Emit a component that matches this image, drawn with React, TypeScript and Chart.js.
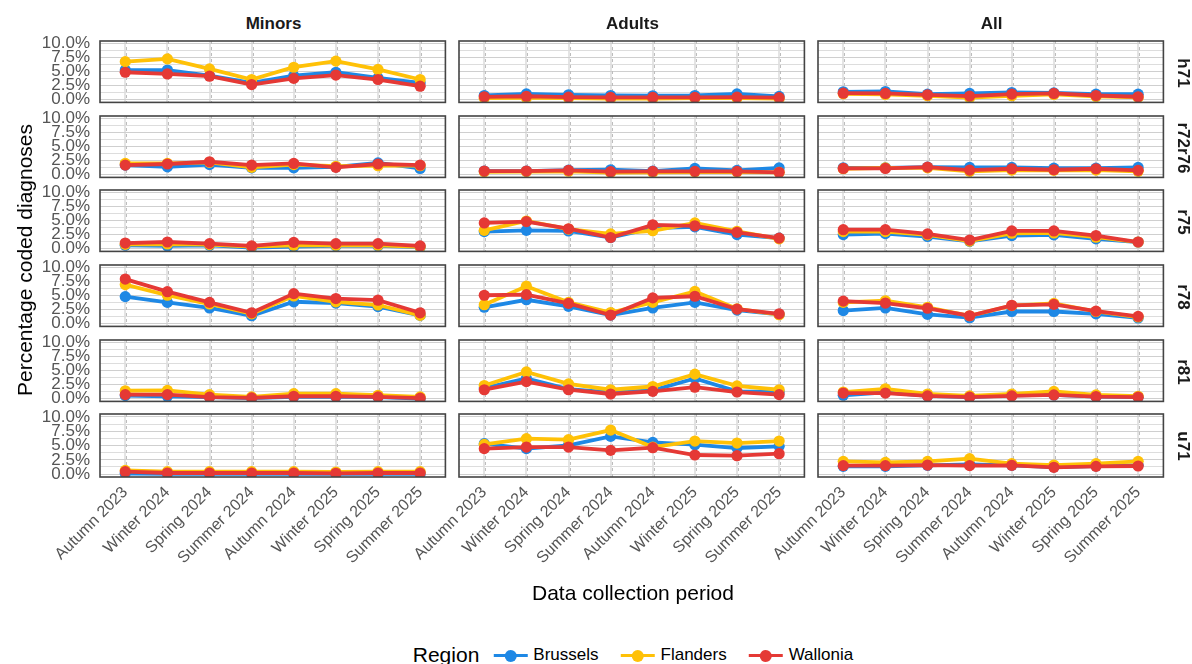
import React, { useEffect, useRef } from "react";
import { Chart, registerables } from "chart.js";

Chart.register(...registerables);

const FONT = "'Liberation Sans', Arial, sans-serif";
Chart.defaults.font.family = FONT;

const periods = ["Autumn 2023", "Winter 2024", "Spring 2024", "Summer 2024", "Autumn 2024", "Winter 2025", "Spring 2025", "Summer 2025"];
const ageGroups = ["Minors", "Adults", "All"];
const codes = ["h71", "r72r76", "r75", "r78", "r81", "u71"];
const regions = ["Brussels", "Flanders", "Wallonia"];
const regionColors = ["#1E88E5", "#FFC107", "#E53935"];
const yTickValues = [0, 2.5, 5, 7.5, 10];
const yGridValues = [0, 1.25, 2.5, 3.75, 5, 6.25, 7.5, 8.75, 10];

// each panel: [Brussels, Flanders, Wallonia] in % per period
const h71Minors = [
  [5.3, 5.3, 4.3, 3.0, 4.3, 4.9, 3.9, 3.0],
  [6.8, 7.3, 5.5, 3.6, 5.8, 6.9, 5.4, 3.6],
  [4.9, 4.6, 4.2, 2.7, 3.8, 4.4, 3.6, 2.4],
];
const h71Adults = [
  [0.74, 1.03, 0.86, 0.74, 0.69, 0.74, 1.03, 0.57],
  [0.25, 0.3, 0.25, 0.2, 0.2, 0.25, 0.25, 0.2],
  [0.5, 0.6, 0.45, 0.4, 0.4, 0.4, 0.45, 0.35],
];
const h71All = [
  [1.4, 1.45, 0.98, 1.1, 1.27, 1.2, 0.98, 0.98],
  [1.03, 0.92, 0.69, 0.34, 0.69, 0.92, 0.57, 0.4],
  [1.15, 1.1, 0.86, 0.63, 0.98, 1.1, 0.74, 0.51],
];
const r72r76Minors = [
  [1.7, 1.4, 1.8, 1.2, 1.2, 1.4, 2.1, 1.1],
  [2.0, 2.0, 2.2, 1.3, 1.8, 1.5, 1.6, 1.6],
  [1.7, 1.9, 2.3, 1.7, 2.0, 1.3, 1.9, 1.7],
];
const r72r76Adults = [
  [0.64, 0.64, 0.8, 0.87, 0.64, 1.1, 0.76, 1.2],
  [0.5, 0.55, 0.6, 0.35, 0.4, 0.45, 0.45, 0.4],
  [0.64, 0.64, 0.76, 0.52, 0.58, 0.58, 0.58, 0.41],
];
const r72r76All = [
  [1.22, 1.22, 1.34, 1.28, 1.28, 1.16, 1.16, 1.28],
  [1.05, 1.2, 1.2, 0.58, 0.81, 0.76, 0.81, 0.58],
  [1.1, 1.1, 1.34, 0.81, 1.05, 0.87, 1.05, 0.76],
];
const r75Minors = [
  [0.6, 0.48, 0.6, 0.2, 0.37, 0.48, 0.48, 0.25],
  [0.77, 0.83, 0.72, 0.37, 0.6, 0.6, 0.6, 0.3],
  [1.0, 1.18, 0.89, 0.48, 1.12, 0.89, 0.89, 0.48],
];
const r75Adults = [
  [3.04, 3.27, 3.16, 1.99, 3.68, 3.91, 2.52, 1.88],
  [3.27, 4.95, 3.5, 2.63, 3.2, 4.6, 3.1, 1.76],
  [4.6, 4.83, 3.56, 1.99, 4.26, 4.09, 2.92, 1.88],
];
const r75All = [
  [2.52, 2.69, 2.17, 1.3, 2.34, 2.46, 1.76, 1.18],
  [3.04, 3.04, 2.46, 1.35, 2.75, 2.81, 2.05, 1.18],
  [3.39, 3.39, 2.63, 1.53, 3.16, 3.16, 2.34, 1.18],
];
const r78Minors = [
  [4.84, 3.8, 2.81, 1.41, 3.91, 3.68, 3.04, 1.47],
  [7.0, 5.08, 3.51, 1.76, 4.96, 3.91, 3.33, 1.47],
  [7.98, 5.72, 3.8, 1.94, 5.37, 4.49, 4.2, 1.94],
];
const r78Adults = [
  [2.93, 4.27, 3.1, 1.53, 2.81, 3.8, 2.43, 1.65],
  [3.39, 6.7, 3.8, 1.99, 3.8, 5.77, 2.66, 1.59],
  [5.08, 5.19, 3.62, 1.53, 4.61, 4.9, 2.6, 1.76],
];
const r78All = [
  [2.34, 2.81, 1.65, 1.06, 2.17, 2.17, 1.76, 1.01],
  [3.8, 4.09, 2.93, 1.41, 3.22, 3.62, 2.17, 1.18],
  [4.03, 3.68, 2.75, 1.41, 3.28, 3.45, 2.23, 1.3],
];
const r81Minors = [
  [0.54, 0.42, 0.25, 0.08, 0.31, 0.31, 0.25, 0.02],
  [1.41, 1.47, 0.72, 0.31, 0.89, 0.89, 0.6, 0.31],
  [0.72, 0.72, 0.25, 0.13, 0.42, 0.42, 0.31, 0.08],
];
const r81Adults = [
  [1.88, 3.62, 1.7, 1.12, 1.47, 3.62, 1.3, 1.18],
  [2.34, 4.78, 2.63, 1.59, 2.17, 4.38, 2.28, 1.59],
  [1.59, 3.04, 1.59, 0.83, 1.3, 2.05, 1.18, 0.72],
];
const r81All = [
  [0.6, 1.12, 0.48, 0.25, 0.6, 0.66, 0.37, 0.25],
  [1.18, 1.76, 0.83, 0.48, 0.83, 1.3, 0.66, 0.42],
  [1.0, 1.0, 0.48, 0.25, 0.48, 0.66, 0.37, 0.25],
];
const u71Minors = [
  [0.1, 0.05, 0.05, 0.05, 0.05, 0.05, 0.05, 0.05],
  [0.66, 0.43, 0.43, 0.43, 0.43, 0.37, 0.43, 0.43],
  [0.43, 0.2, 0.2, 0.2, 0.2, 0.14, 0.2, 0.2],
];
const u71Adults = [
  [5.32, 4.45, 5.03, 6.59, 5.55, 5.14, 4.56, 4.85],
  [5.2, 6.19, 6.01, 7.7, 4.73, 5.78, 5.43, 5.78],
  [4.45, 4.73, 4.73, 4.15, 4.62, 3.34, 3.22, 3.57],
];
const u71All = [
  [1.36, 1.36, 1.53, 1.71, 1.53, 1.25, 1.42, 1.53],
  [2.23, 2.06, 2.23, 2.7, 1.83, 1.59, 1.83, 2.23],
  [1.48, 1.48, 1.59, 1.48, 1.53, 1.19, 1.36, 1.42],
];

const panelData = [
  [h71Minors, h71Adults, h71All],
  [r72r76Minors, r72r76Adults, r72r76All],
  [r75Minors, r75Adults, r75All],
  [r78Minors, r78Adults, r78All],
  [r81Minors, r81Adults, r81All],
  [u71Minors, u71Adults, u71All],
];

// layout (pixels)
const colLeft = [100, 459, 818];
const rowTop = [41, 116, 190, 265, 340, 414];
const PANEL_W = 347;
const PANEL_H = 63;
const EXT_L = 100;
const EXT_T = 6;
const EXT_R = 4;
const EXT_B = 110;

const panelDecor = {
  id: "panelDecor",
  beforeDatasetsDraw(chart: any) {
    const { ctx, chartArea: a, scales } = chart;
    ctx.save();
    ctx.beginPath();
    ctx.rect(a.left, a.top, a.right - a.left, a.bottom - a.top);
    ctx.clip();
    ctx.strokeStyle = "#bdbdbd";
    ctx.lineWidth = 1;
    ctx.setLineDash([3, 3]);
    for (let i = 0; i < periods.length; i++) {
      const x = Math.round(scales.x.getPixelForValue(i)) + 0.5 + 1;
      ctx.beginPath();
      ctx.moveTo(x, a.top);
      ctx.lineTo(x, a.bottom);
      ctx.stroke();
    }
    ctx.restore();
  },
  afterDraw(chart: any) {
    const { ctx, chartArea: a } = chart;
    ctx.save();
    ctx.strokeStyle = "#444444";
    ctx.lineWidth = 1.6;
    ctx.strokeRect(a.left, a.top, a.right - a.left, a.bottom - a.top);
    ctx.restore();
  },
};

function Panel({ row, col }: { row: number; col: number }) {
  const ref = useRef<HTMLCanvasElement>(null);
  const showY = col === 0;
  const showX = row === codes.length - 1;
  const width = EXT_L + PANEL_W + EXT_R;
  const height = EXT_T + PANEL_H + (showX ? EXT_B : 4);

  useEffect(() => {
    if (!ref.current) return;
    const series = panelData[row][col];
    const chart = new Chart(ref.current, {
      type: "line",
      data: {
        datasets: regions.map((name, r) => ({
          label: name,
          data: series[r].map((v, i) => ({ x: i, y: v })),
          borderColor: regionColors[r],
          backgroundColor: regionColors[r],
          pointBackgroundColor: regionColors[r],
          pointBorderWidth: 0,
          pointRadius: 5.6,
          borderWidth: 3.8,
          tension: 0,
          order: regions.length - r,
        })),
      },
      options: {
        responsive: false,
        animation: false,
        events: [],
        layout: { padding: { left: 0, top: EXT_T, right: EXT_R, bottom: 0 } },
        plugins: { legend: { display: false }, tooltip: { enabled: false } },
        scales: {
          x: {
            type: "linear",
            min: -0.6,
            max: 7.6,
            afterBuildTicks: (s: any) => {
              s.ticks = periods.map((_, i) => ({ value: i }));
            },
            afterFit: (s: any) => {
              s.height = showX ? EXT_B : 4;
              s.paddingLeft = 0;
              s.paddingRight = 0;
              s.paddingTop = 0;
              s.paddingBottom = 0;
            },
            grid: { color: "#e4e4e4", lineWidth: 2, drawTicks: false },
            border: { display: false },
            ticks: {
              display: showX,
              autoSkip: false,
              maxRotation: 45,
              minRotation: 45,
              padding: 6,
              color: "#555555",
              font: { size: 16, family: FONT },
              callback: (v: any) => periods[v as number] ?? "",
            },
          },
          y: {
            type: "linear",
            min: -0.5,
            max: 10.5,
            afterBuildTicks: (s: any) => {
              s.ticks = yGridValues.map((v) => ({ value: v }));
            },
            afterFit: (s: any) => {
              s.width = EXT_L;
              s.paddingTop = 0;
              s.paddingBottom = 0;
              s.paddingLeft = 0;
              s.paddingRight = 0;
            },
            grid: {
              drawTicks: false,
              lineWidth: 1,
              color: (c: any) => (yTickValues.includes(c.tick?.value) ? "#cfcfcf" : "#dddddd"),
            },
            border: { display: false },
            ticks: {
              display: showY,
              autoSkip: false,
              padding: 10,
              color: "#555555",
              font: { size: 17, family: FONT },
              callback: (v: any) => (yTickValues.includes(v as number) ? (v as number).toFixed(1) + "%" : ""),
            },
          },
        },
      },
      plugins: [panelDecor],
    });
    return () => chart.destroy();
  }, [row, col]);

  return (
    <canvas
      ref={ref}
      width={width}
      height={height}
      style={{
        position: "absolute",
        left: colLeft[col] - EXT_L,
        top: rowTop[row] - EXT_T,
        width,
        height,
      }}
    />
  );
}

function LegendKey({ color }: { color: string }) {
  return (
    <span style={{ position: "relative", display: "inline-block", width: 34, height: 14, marginRight: 6 }}>
      <span style={{ position: "absolute", left: 0, right: 0, top: 5.5, height: 3.5, background: color }} />
      <span
        style={{
          position: "absolute",
          left: 11,
          top: 1.5,
          width: 12,
          height: 12,
          borderRadius: "50%",
          background: color,
        }}
      />
    </span>
  );
}

export default function App() {
  const panels = [];
  for (let r = 0; r < codes.length; r++) {
    for (let c = 0; c < ageGroups.length; c++) {
      panels.push(<Panel key={`${r}-${c}`} row={r} col={c} />);
    }
  }
  return (
    <div
      style={{
        position: "fixed",
        left: 0,
        top: 0,
        width: 1192,
        height: 664,
        background: "#ffffff",
        fontFamily: FONT,
        overflow: "hidden",
      }}
    >
      {panels}
      {ageGroups.map((g, c) => (
        <div
          key={g}
          style={{
            position: "absolute",
            left: colLeft[c] + PANEL_W / 2,
            top: 24,
            transform: "translate(-50%, -50%)",
            fontWeight: "bold",
            fontSize: 17,
            color: "#1a1a1a",
            whiteSpace: "nowrap",
          }}
        >
          {g}
        </div>
      ))}
      {codes.map((code, r) => (
        <div
          key={code}
          style={{
            position: "absolute",
            left: 1183,
            top: rowTop[r] + PANEL_H / 2,
            transform: "translate(-50%, -50%) rotate(90deg)",
            fontWeight: "bold",
            fontSize: 17,
            color: "#1a1a1a",
            whiteSpace: "nowrap",
          }}
        >
          {code}
        </div>
      ))}
      <div
        style={{
          position: "absolute",
          left: 25,
          top: 260,
          transform: "translate(-50%, -50%) rotate(-90deg)",
          fontSize: 21,
          color: "#000",
          whiteSpace: "nowrap",
        }}
      >
        Percentage coded diagnoses
      </div>
      <div
        style={{
          position: "absolute",
          left: 633,
          top: 593,
          transform: "translate(-50%, -50%)",
          fontSize: 21,
          color: "#000",
          whiteSpace: "nowrap",
        }}
      >
        Data collection period
      </div>
      <div
        style={{
          position: "absolute",
          left: 633,
          top: 655,
          transform: "translate(-50%, -50%)",
          display: "flex",
          alignItems: "center",
          whiteSpace: "nowrap",
        }}
      >
        <span style={{ fontSize: 21, color: "#000", marginRight: 14 }}>Region</span>
        {regions.map((name, r) => (
          <span key={name} style={{ display: "flex", alignItems: "center", marginRight: r < regions.length - 1 ? 22 : 0 }}>
            <LegendKey color={regionColors[r]} />
            <span style={{ fontSize: 17, color: "#000" }}>{name}</span>
          </span>
        ))}
      </div>
    </div>
  );
}
